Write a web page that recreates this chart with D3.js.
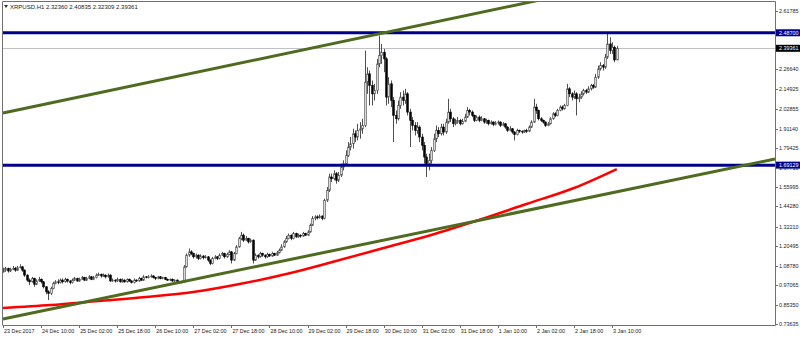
<!DOCTYPE html>
<html>
<head>
<meta charset="utf-8">
<script src="https://cdn.jsdelivr.net/npm/d3@7"></script>
<style>
  body { margin: 0; background: #fff; }
  text { font-family: "Liberation Sans", Arial, sans-serif; font-size: 5.4px; }
</style>
</head>
<body>
<svg width="800" height="338"></svg>
<script>
// XRPUSD H1, one bar per hour, first bar 23 Dec 2017 18:00
var firstOpen = 1.05;
var closes = [
  1.06,1.07,1.055,1.065,1.07,1.06,1.075,1.08,1.06,1.03,
  1.00,0.99,1.01,0.975,0.995,1.005,0.99,0.96,0.93,0.92,
  0.95,0.98,0.99,0.985,1.00,0.99,1.005,0.995,0.985,1.0,
  1.01,0.995,1.005,1.015,1.0,1.01,1.02,1.005,1.015,1.03,
  1.035,1.025,1.03,1.02,1.03,0.995,1.00,0.995,1.005,0.99,
  1.0,0.99,1.005,0.995,0.985,1.0,0.995,1.01,1.0,1.02,
  1.015,1.02,1.025,1.015,1.01,1.02,1.01,1.015,1.005,1.0,
  1.005,0.995,1.0,0.99,0.985,0.99,1.08,1.15,1.17,1.16,
  1.14,1.15,1.13,1.145,1.135,1.14,1.12,1.10,1.13,1.14,
  1.13,1.15,1.16,1.14,1.155,1.17,1.12,1.16,1.20,1.25,
  1.27,1.24,1.25,1.23,1.24,1.12,1.15,1.14,1.16,1.15,
  1.14,1.155,1.145,1.16,1.15,1.165,1.18,1.20,1.23,1.25,
  1.27,1.25,1.28,1.26,1.27,1.265,1.28,1.27,1.29,1.33,
  1.37,1.38,1.375,1.385,1.37,1.48,1.54,1.62,1.61,1.64,
  1.60,1.63,1.68,1.70,1.75,1.80,1.82,1.88,1.86,1.90,
  1.91,1.93,2.19,2.24,2.17,2.12,2.14,2.30,2.35,2.37,
  2.33,2.10,2.18,2.08,1.99,1.97,2.05,2.10,2.08,2.12,
  2.01,1.96,1.93,1.90,1.92,1.86,1.81,1.74,1.70,1.72,
  1.78,1.85,1.90,1.88,1.92,1.89,1.95,2.01,1.97,1.94,
  1.95,1.96,1.94,1.955,1.98,2.02,2.01,1.99,1.96,1.98,
  1.96,1.97,1.95,1.96,1.94,1.95,1.935,1.945,1.95,1.93,
  1.94,1.92,1.90,1.91,1.89,1.875,1.90,1.895,1.89,1.90,
  1.895,1.92,1.95,2.04,2.02,1.97,1.96,1.95,1.93,1.94,
  1.97,2.00,1.99,2.02,2.04,2.03,2.05,2.15,2.12,2.10,
  2.12,2.09,2.10,2.12,2.14,2.13,2.15,2.17,2.16,2.22,
  2.27,2.29,2.28,2.34,2.42,2.38,2.40,2.3236,2.39361
];
var highs = [
  1.075,1.08,1.075,1.075,1.085,1.08,1.085,1.095,1.085,1.065,
  1.035,1.01,1.02,1.015,1.005,1.02,1.01,0.995,0.965,0.94,
  0.96,0.99,1.00,1.005,1.01,1.01,1.015,1.01,1.0,1.01,
  1.02,1.015,1.015,1.025,1.02,1.02,1.03,1.025,1.025,1.04,
  1.045,1.04,1.04,1.035,1.04,1.035,1.01,1.005,1.015,1.01,
  1.01,1.005,1.01,1.01,1.0,1.01,1.005,1.02,1.015,1.03,
  1.025,1.03,1.035,1.03,1.02,1.025,1.025,1.02,1.02,1.01,
  1.01,1.01,1.005,1.005,0.995,0.995,1.09,1.16,1.19,1.18,
  1.165,1.16,1.155,1.155,1.15,1.15,1.145,1.125,1.14,1.15,
  1.145,1.16,1.17,1.165,1.165,1.18,1.175,1.17,1.21,1.26,
  1.29,1.28,1.265,1.255,1.25,1.245,1.16,1.155,1.17,1.165,
  1.155,1.165,1.16,1.17,1.165,1.175,1.19,1.215,1.24,1.265,
  1.28,1.275,1.29,1.285,1.28,1.275,1.29,1.285,1.30,1.34,
  1.385,1.39,1.39,1.395,1.39,1.49,1.56,1.64,1.64,1.66,
  1.65,1.65,1.70,1.72,1.78,1.83,1.86,1.91,1.90,1.94,
  1.95,1.97,2.38,2.28,2.26,2.20,2.18,2.33,2.47,2.42,
  2.39,2.34,2.22,2.20,2.10,2.02,2.08,2.13,2.14,2.15,
  2.13,2.03,1.98,1.95,1.95,1.93,1.88,1.83,1.76,1.76,
  1.80,1.88,1.93,1.92,1.94,1.94,1.97,2.09,2.03,1.98,
  1.97,1.98,1.97,1.97,2.00,2.04,2.03,2.02,1.995,1.99,
  1.99,1.985,1.975,1.97,1.965,1.96,1.955,1.955,1.96,1.955,
  1.95,1.945,1.925,1.925,1.915,1.895,1.91,1.905,1.90,1.905,
  1.91,1.93,1.96,2.09,2.06,2.025,1.98,1.965,1.955,1.95,
  1.98,2.01,2.01,2.03,2.05,2.05,2.06,2.18,2.16,2.13,
  2.14,2.13,2.12,2.135,2.15,2.15,2.165,2.18,2.18,2.24,
  2.29,2.31,2.30,2.36,2.49,2.46,2.43,2.41,2.40835
];
var lows = [
  1.045,1.05,1.045,1.05,1.06,1.05,1.055,1.07,1.05,1.02,
  0.99,0.97,0.985,0.96,0.97,0.99,0.98,0.95,0.915,0.88,
  0.91,0.945,0.975,0.975,0.98,0.98,0.985,0.985,0.975,0.98,
  0.995,0.99,0.99,1.0,0.995,0.995,1.005,1.0,1.0,1.01,
  1.025,1.015,1.02,1.01,1.015,0.99,0.99,0.985,0.99,0.985,
  0.985,0.985,0.985,0.99,0.98,0.98,0.99,0.99,0.995,0.995,
  1.01,1.01,1.015,1.01,1.0,1.005,1.005,1.005,1.0,0.995,
  0.995,0.99,0.99,0.985,0.98,0.98,0.985,1.075,1.14,1.15,
  1.13,1.13,1.12,1.125,1.125,1.13,1.11,1.09,1.095,1.125,
  1.12,1.125,1.145,1.13,1.135,1.15,1.10,1.115,1.155,1.195,
  1.24,1.23,1.235,1.22,1.225,1.10,1.115,1.13,1.135,1.14,
  1.13,1.135,1.14,1.14,1.145,1.145,1.16,1.175,1.195,1.225,
  1.245,1.24,1.245,1.255,1.255,1.255,1.26,1.265,1.265,1.285,
  1.325,1.36,1.365,1.37,1.36,1.365,1.47,1.53,1.59,1.60,
  1.58,1.59,1.62,1.66,1.69,1.74,1.78,1.79,1.83,1.84,
  1.85,1.88,1.92,2.12,2.05,2.05,2.08,2.12,2.28,2.30,
  2.25,2.05,2.06,2.04,1.83,1.94,1.96,2.03,2.05,2.06,
  1.99,1.80,1.90,1.87,1.88,1.83,1.78,1.70,1.62,1.66,
  1.70,1.77,1.83,1.86,1.87,1.87,1.88,1.94,1.95,1.92,
  1.93,1.94,1.93,1.935,1.95,1.975,1.99,1.98,1.95,1.955,
  1.95,1.955,1.94,1.94,1.93,1.935,1.925,1.93,1.935,1.92,
  1.925,1.91,1.89,1.895,1.88,1.84,1.87,1.885,1.88,1.885,
  1.885,1.89,1.915,1.945,2.00,1.96,1.95,1.94,1.92,1.925,
  1.935,1.965,1.98,1.985,2.015,2.02,2.025,2.045,2.10,2.08,
  2.09,1.99,2.07,2.09,2.11,2.12,2.125,2.14,2.15,2.155,
  2.21,2.26,2.26,2.27,2.33,2.36,2.36,2.31,2.32309
];

// moving average, read at some bars
var maBars   = [0, 20, 40, 60, 80, 100, 120, 140, 160, 180, 200, 220, 240, 258];
var maValues = [0.8325, 0.8505, 0.8746, 0.8986, 0.9287, 0.9780, 1.0400, 1.1150,
                1.1931, 1.2712, 1.3614, 1.4575, 1.5537, 1.6679];

// trend channel: [bar, price] anchors
var trendLow  = [[0, 0.7664], [324.5, 1.7280]];
var trendHigh = [[0, 2.0044], [324.5, 2.9815]];

var levels = [2.48700, 1.69129];
var bid = 2.39361;

var yTicks = [2.61785, 2.26640, 2.14925, 2.02855, 1.91140, 1.79425,
              1.67710, 1.55995, 1.44280, 1.32210, 1.20495, 1.08780, 0.97065, 0.85350, 0.73635];
var xTickBars = [0, 16, 32, 48, 64, 80, 96, 112, 128, 144, 160, 176, 192, 208, 224, 240, 256];
var xTickLabels = ["23 Dec 2017", "24 Dec 10:00", "25 Dec 02:00", "25 Dec 18:00", "26 Dec 10:00",
  "27 Dec 02:00", "27 Dec 18:00", "28 Dec 10:00", "29 Dec 02:00", "29 Dec 18:00", "30 Dec 10:00",
  "31 Dec 02:00", "31 Dec 18:00", "1 Jan 10:00", "2 Jan 02:00", "2 Jan 18:00", "3 Jan 10:00"];

var title = "XRPUSD,H1  2.32360 2.40835 2.32309 2.39361";

var svg = d3.select("svg");
var plotL = 2, plotR = 775, plotT = 1, plotB = 325;

var x = d3.scaleLinear().domain([0, 324.5]).range([3, plotR]);
var y = d3.scaleLinear().domain([0.73635, 2.61785]).range([324, 11]);

svg.append("rect").attr("width", 800).attr("height", 338).attr("fill", "#fff");

svg.append("clipPath").attr("id", "plot")
  .append("rect").attr("x", plotL).attr("y", plotT).attr("width", plotR - plotL).attr("height", plotB - plotT);

var plot = svg.append("g").attr("clip-path", "url(#plot)");

var bars = closes.map(function(c, i) {
  return { i: i, o: i === 0 ? firstOpen : closes[i - 1], h: highs[i], l: lows[i], c: c };
});

// bid line
plot.append("line")
  .attr("x1", plotL).attr("x2", plotR)
  .attr("y1", Math.round(y(bid)) + 0.5).attr("y2", Math.round(y(bid)) + 0.5)
  .attr("stroke", "#c0c0c8").attr("stroke-width", 1);

// candles
var candle = plot.append("g").selectAll("g").data(bars).enter().append("g");
candle.append("line")
  .attr("x1", function(d) { return Math.round(x(d.i)) + 0.5; })
  .attr("x2", function(d) { return Math.round(x(d.i)) + 0.5; })
  .attr("y1", function(d) { return y(d.h); })
  .attr("y2", function(d) { return y(d.l); })
  .attr("stroke", "#505050").attr("stroke-width", 1);
candle.append("rect")
  .attr("x", function(d) { return Math.round(x(d.i)) - 0.3; })
  .attr("width", 1.6)
  .attr("y", function(d) { return y(Math.max(d.o, d.c)); })
  .attr("height", function(d) { return Math.max(0.8, Math.abs(y(d.o) - y(d.c))); })
  .attr("fill", function(d) { return d.c >= d.o ? "#e8e8e8" : "#000"; })
  .attr("stroke", function(d) { return d.c >= d.o ? "#505050" : "#000"; })
  .attr("stroke-width", 0.7);

// horizontal levels
plot.selectAll(".level").data(levels).enter().append("line")
  .attr("class", "level")
  .attr("x1", plotL).attr("x2", plotR)
  .attr("y1", function(d) { return y(d); }).attr("y2", function(d) { return y(d); })
  .attr("stroke", "#00008b").attr("stroke-width", 3);

// moving average
var maLine = d3.line()
  .x(function(d) { return x(d[0]); })
  .y(function(d) { return y(d[1]); })
  .curve(d3.curveMonotoneX);
plot.append("path")
  .datum(d3.zip(maBars, maValues))
  .attr("d", maLine)
  .attr("fill", "none").attr("stroke", "#ff0000").attr("stroke-width", 2.5);

// trend lines
var trendLine = d3.line().x(function(d) { return x(d[0]); }).y(function(d) { return y(d[1]); });
plot.selectAll(".trend").data([trendLow, trendHigh]).enter().append("path")
  .attr("class", "trend")
  .attr("d", trendLine)
  .attr("fill", "none").attr("stroke", "#4f6b1f").attr("stroke-width", 3);

// frame
svg.append("path")
  .attr("d", "M" + (plotL + 0.5) + "," + plotB + "V" + (plotT + 0.5) + "H" + (plotR + 0.5) + "V" + (plotB + 0.5) + "H" + (plotL + 0.5))
  .attr("fill", "none").attr("stroke", "#707070").attr("stroke-width", 1);

// price axis
var yAxis = svg.append("g");
yAxis.selectAll("line").data(yTicks).enter().append("line")
  .attr("x1", plotR).attr("x2", plotR + 3)
  .attr("y1", function(d) { return Math.round(y(d)) + 0.5; })
  .attr("y2", function(d) { return Math.round(y(d)) + 0.5; })
  .attr("stroke", "#707070");
yAxis.selectAll("text").data(yTicks).enter().append("text")
  .attr("x", plotR + 4).attr("y", function(d) { return y(d) + 2; })
  .attr("fill", "#222")
  .text(function(d) { return d.toFixed(5); });

// time axis
var xAxis = svg.append("g");
xAxis.selectAll("line").data(xTickBars).enter().append("line")
  .attr("x1", function(d) { return Math.round(x(d)) + 0.5; })
  .attr("x2", function(d) { return Math.round(x(d)) + 0.5; })
  .attr("y1", plotB).attr("y2", plotB + 3)
  .attr("stroke", "#707070");
xAxis.selectAll("text").data(xTickBars).enter().append("text")
  .attr("x", function(d) { return x(d) + 1; }).attr("y", 333)
  .attr("fill", "#222")
  .text(function(d, k) { return xTickLabels[k]; });

// price boxes
var boxes = levels.map(function(v) { return { v: v, fill: "#00008b" }; })
  .concat([{ v: bid, fill: "#000" }]);
var box = svg.append("g").selectAll("g").data(boxes).enter().append("g");
box.append("rect")
  .attr("x", plotR + 1).attr("width", 800 - plotR - 1)
  .attr("y", function(d) { return y(d.v) - 3.5; }).attr("height", 7)
  .attr("fill", function(d) { return d.fill; });
box.append("text")
  .attr("x", plotR + 4).attr("y", function(d) { return y(d.v) + 2; })
  .attr("fill", "#fff")
  .text(function(d) { return d.v.toFixed(5); });

// title
svg.append("path").attr("d", "M4,5 L8,5 L6,8 Z").attr("fill", "#333");
svg.append("text").attr("x", 10).attr("y", 8.5).attr("fill", "#222")
  .style("font-size", "6px").text(title);
</script>
</body>
</html>
